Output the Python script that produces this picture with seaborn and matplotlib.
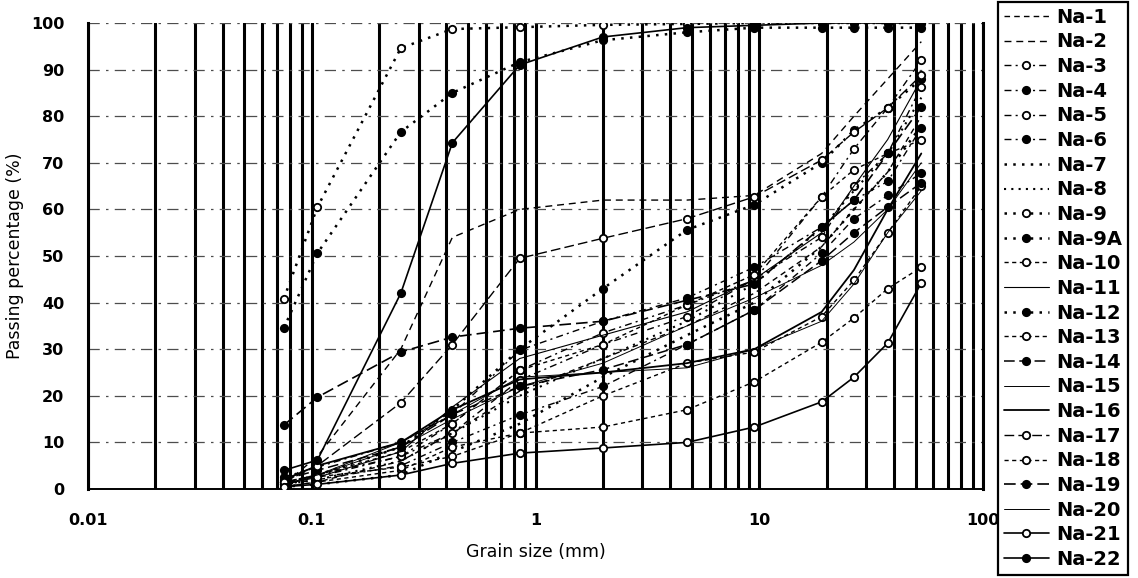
import numpy as np
import matplotlib
matplotlib.use("Agg")
import matplotlib.pyplot as plt
import seaborn as sns
from matplotlib.ticker import FixedLocator, FixedFormatter, LogLocator, NullFormatter

# Sieve openings (mm) used for every sample
sieve_mm = [0.075, 0.106, 0.25, 0.425, 0.85, 2.0, 4.75, 9.5, 19.0, 26.5, 37.5, 53.0]

# Passing percentage (%) per sample at each sieve opening
na_1 = [0.5, 1.5, 6.0, 12.0, 21.0, 28.0, 35.0, 42.0, 52.0, 60.0, 68.0, 80.0]
na_2 = [1.0, 7.0, 30.0, 54.0, 60.0, 62.0, 62.0, 63.0, 72.0, 80.0, 88.0, 96.0]
na_3 = [1.0, 2.6, 7.0, 14.0, 25.5, 33.5, 39.5, 44.8, 62.7, 73.0, 81.8, 92.0]
na_4 = [2.6, 4.7, 10.0, 16.0, 29.8, 36.0, 41.0, 47.6, 56.2, 62.0, 66.0, 77.5]
na_5 = [1.5, 3.0, 7.0, 12.0, 23.4, 31.0, 37.0, 45.0, 54.0, 65.0, 72.0, 86.3]
na_6 = [1.0, 2.0, 5.0, 10.0, 15.9, 22.0, 31.0, 38.4, 50.6, 58.0, 63.0, 67.8]
na_7 = [0.5, 1.0, 3.0, 8.0, 14.0, 24.0, 33.0, 40.0, 52.0, 60.0, 68.0, 78.0]
na_8 = [1.0, 2.0, 6.0, 12.0, 20.0, 28.0, 36.0, 44.0, 56.0, 64.0, 72.0, 84.0]
na_9 = [40.8, 60.5, 94.6, 98.7, 99.1, 99.6, 99.8, 100.0, 100.0, 100.0, 100.0, 100.0]
na_9a = [34.5, 50.6, 76.6, 85.0, 91.6, 96.3, 98.0, 99.0, 99.0, 99.0, 99.0, 99.0]
na_10 = [1.5, 3.0, 8.0, 14.0, 25.5, 31.0, 39.5, 46.0, 62.7, 68.5, 72.0, 74.9]
na_11 = [1.0, 2.5, 8.0, 17.6, 28.0, 33.0, 38.0, 45.0, 55.0, 65.0, 75.0, 88.0]
na_12 = [1.0, 3.0, 9.0, 17.0, 30.0, 43.0, 55.6, 61.0, 70.0, 77.0, 81.8, 88.0]
na_13 = [0.5, 1.5, 4.0, 9.0, 12.0, 20.0, 27.0, 29.4, 37.0, 44.8, 55.0, 65.0]
na_14 = [2.0, 4.0, 9.0, 16.0, 22.0, 25.6, 31.0, 38.4, 49.0, 55.0, 60.5, 65.7]
na_15 = [1.0, 3.0, 10.0, 16.0, 24.0, 25.0, 26.0, 30.0, 36.0, 44.0, 55.0, 64.0]
na_16 = [2.0, 5.0, 10.0, 17.0, 23.5, 25.0, 27.0, 30.0, 38.0, 47.0, 60.0, 72.0]
na_17 = [1.5, 5.0, 18.5, 31.0, 49.5, 53.8, 58.0, 62.7, 70.6, 76.6, 81.8, 88.8]
na_18 = [1.5, 2.6, 4.7, 7.0, 12.0, 13.3, 17.0, 23.0, 31.5, 36.7, 43.0, 47.6]
na_19 = [13.7, 19.7, 29.4, 32.6, 34.5, 36.0, 40.5, 44.0, 56.2, 62.0, 72.0, 82.0]
na_20 = [1.0, 3.0, 9.0, 15.0, 22.0, 27.0, 35.0, 41.0, 48.0, 53.0, 60.0, 70.0]
na_21 = [0.5, 1.0, 3.0, 5.5, 7.7, 8.8, 10.0, 13.3, 18.7, 24.0, 31.3, 44.2]
na_22 = [4.0, 6.2, 42.0, 74.3, 91.0, 97.0, 99.0, 99.5, 100.0, 100.0, 100.0, 100.0]

sample_names = ["Na-1", "Na-2", "Na-3", "Na-4", "Na-5", "Na-6", "Na-7", "Na-8",
                "Na-9", "Na-9A", "Na-10", "Na-11", "Na-12", "Na-13", "Na-14",
                "Na-15", "Na-16", "Na-17", "Na-18", "Na-19", "Na-20", "Na-21", "Na-22"]
sample_values = [na_1, na_2, na_3, na_4, na_5, na_6, na_7, na_8, na_9, na_9a, na_10,
                 na_11, na_12, na_13, na_14, na_15, na_16, na_17, na_18, na_19,
                 na_20, na_21, na_22]

x_ticks = [0.01, 0.1, 1, 10, 100]
x_tick_labels = ["0.01", "0.1", "1", "10", "100"]
y_ticks = list(range(0, 101, 10))

# Line styles: (dash pattern, line width, marker, filled marker)
DASH = (0, (4, 3))
DASH2 = (0, (5, 3.5))
DASHDOT = (0, (5, 3, 1.5, 3))
DOT = (0, (1, 2.5))
DASHO = (0, (3, 2.5))
LONGDASH = (0, (7, 3))
SOLID = "-"
line_styles = [
    (DASH, 1.0, None, False),       # Na-1
    (DASH2, 1.0, None, False),      # Na-2
    (DASHDOT, 1.0, "o", False),     # Na-3
    (DASHDOT, 1.0, "o", True),      # Na-4
    (DASHDOT, 1.0, "o", False),     # Na-5
    (DASHDOT, 1.0, "o", True),      # Na-6
    (DOT, 1.8, None, False),        # Na-7
    (DOT, 1.5, None, False),        # Na-8
    (DOT, 1.8, "o", False),         # Na-9
    (DOT, 1.8, "o", True),          # Na-9A
    (DASHO, 1.0, "o", False),       # Na-10
    (SOLID, 0.8, None, False),      # Na-11
    (DOT, 1.8, "o", True),          # Na-12
    (DASHO, 1.0, "o", False),       # Na-13
    (LONGDASH, 1.1, "o", True),     # Na-14
    (SOLID, 0.7, None, False),      # Na-15
    (SOLID, 1.3, None, False),      # Na-16
    (LONGDASH, 1.0, "o", False),    # Na-17
    (DASHO, 1.0, "o", False),       # Na-18
    (LONGDASH, 1.2, "o", True),     # Na-19
    (SOLID, 0.7, None, False),      # Na-20
    (SOLID, 1.2, "o", False),       # Na-21
    (SOLID, 1.2, "o", True),        # Na-22
]

sns.set_theme(style="white")
plt.rcParams["font.family"] = ["DejaVu Sans"]
plt.rcParams["text.color"] = "black"

W, H = 1138, 578
fig = plt.figure(figsize=(W / 100, H / 100), dpi=100)
ax = fig.add_axes([88 / W, 1 - 489 / H, 895 / W, 466 / H])
ax.set_xscale("log")
ax.set_xlim(0.01, 100)
ax.set_ylim(0, 100)

handles = []
for name, vals, (ls, lw, mk, filled) in zip(sample_names, sample_values, line_styles):
    kw = dict(color="black", linewidth=lw, linestyle=ls, zorder=3)
    if mk is not None:
        kw.update(marker=mk, markersize=5.3,
                  markerfacecolor="black" if filled else "white",
                  markeredgecolor="black", markeredgewidth=1.3)
    sns.lineplot(x=sieve_mm, y=vals, ax=ax, legend=False, **kw)
    handles.append(ax.lines[-1])

# Logarithmic sieve grid: heavy verticals, dash-dot horizontals
ax.xaxis.set_major_locator(FixedLocator(x_ticks))
ax.xaxis.set_major_formatter(FixedFormatter(x_tick_labels))
ax.xaxis.set_minor_locator(LogLocator(base=10, subs=np.arange(2, 10)))
ax.xaxis.set_minor_formatter(NullFormatter())
ax.set_yticks(y_ticks)
ax.grid(True, which="both", axis="x", color="black", linewidth=2.2, linestyle="-", zorder=1)
ax.grid(True, which="major", axis="y", color="0.3", linewidth=0.9,
        linestyle=(0, (9, 5, 2, 5)), zorder=1)
ax.set_axisbelow(True)

for side in ("left", "right"):
    ax.spines[side].set_color("black")
    ax.spines[side].set_linewidth(2.2)
ax.spines["bottom"].set_color("black")
ax.spines["bottom"].set_linewidth(1.4)
ax.spines["top"].set_visible(False)

ax.tick_params(axis="both", which="both", length=0)
ax.tick_params(axis="x", pad=17)
ax.tick_params(axis="y", pad=17)
for lab in ax.get_xticklabels() + ax.get_yticklabels():
    lab.set_fontsize(11.5)
    lab.set_fontweight("bold")
    lab.set_color("black")

ax.set_xlabel("Grain size (mm)", fontsize=12.5, color="black")
ax.set_ylabel("Passing percentage (%)", fontsize=12.5, color="black")
ax.xaxis.set_label_coords(0.5, -0.115)
ax.yaxis.set_label_coords(-0.072, 0.5)

leg = fig.legend(handles, sample_names, loc="upper left",
                 bbox_to_anchor=(998 / W, 1 - 2 / H), bbox_transform=fig.transFigure,
                 frameon=True, fancybox=False, framealpha=1, edgecolor="black",
                 borderaxespad=0, borderpad=0.3, labelspacing=0.29,
                 handlelength=2.3, handletextpad=0.4, numpoints=1,
                 prop=dict(weight="bold", size=14))
leg.get_frame().set_linewidth(1.6)
for txt in leg.get_texts():
    txt.set_color("black")

fig.savefig("out.png", dpi=100, facecolor="white")
